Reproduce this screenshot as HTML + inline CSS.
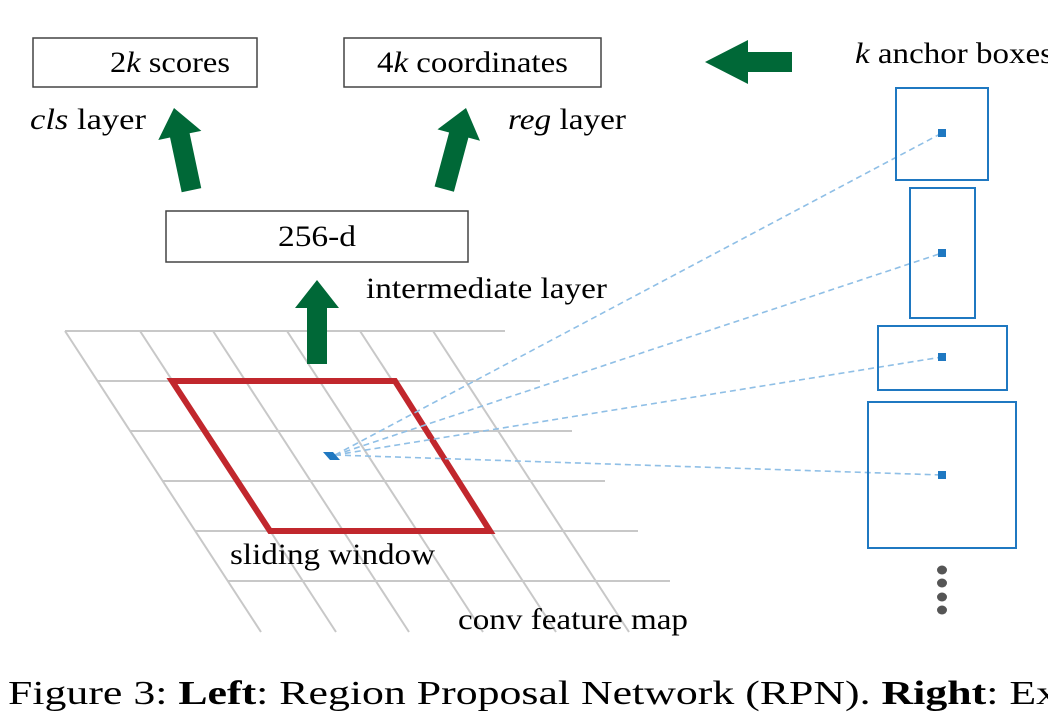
<!DOCTYPE html>
<html><head><meta charset="utf-8"><style>
html,body{margin:0;padding:0;background:#fff;}
svg{display:block}
text{font-family:"Liberation Serif",serif;fill:#000}
</style></head><body>
<svg width="1048" height="722" viewBox="0 0 1048 722" xmlns="http://www.w3.org/2000/svg">
<defs>
<path id="up" d="M0,0 L22,28 L10,28 L10,84 L-10,84 L-10,28 L-22,28 Z" fill="#006837"/>
</defs>
<g stroke="#c8c8c8" stroke-width="2">
<line x1="65" y1="331" x2="505" y2="331"/>
<line x1="98" y1="381" x2="540" y2="381"/>
<line x1="130" y1="431" x2="572" y2="431"/>
<line x1="163" y1="481" x2="605" y2="481"/>
<line x1="195" y1="531" x2="638" y2="531"/>
<line x1="228" y1="581" x2="670" y2="581"/>
<line x1="65" y1="331" x2="261" y2="632"/>
<line x1="140" y1="331" x2="336" y2="632"/>
<line x1="213" y1="331" x2="409" y2="632"/>
<line x1="287" y1="331" x2="483" y2="632"/>
<line x1="360" y1="331" x2="556" y2="632"/>
<line x1="433" y1="331" x2="629" y2="632"/>
</g>
<polygon points="172,381 395,381 490,531 270,531" fill="none" stroke="#c1272d" stroke-width="6"/>
<g stroke="#8fbfe6" stroke-width="1.6" stroke-dasharray="6,4" fill="none">
<line x1="335" y1="455" x2="942" y2="133"/>
<line x1="335" y1="455" x2="942" y2="253"/>
<line x1="335" y1="455" x2="942" y2="357"/>
<line x1="335" y1="455" x2="942" y2="475"/>
</g>
<polygon points="323,452 333,452 340,460 330,460" fill="#1f78c1"/>
<g stroke="#1f78c1" stroke-width="2" fill="none">
<rect x="896" y="88" width="92" height="92"/>
<rect x="910" y="188" width="65" height="130"/>
<rect x="878" y="326" width="129" height="64"/>
<rect x="868" y="402" width="148" height="146"/>
</g>
<g fill="#1f78c1">
<rect x="938" y="129" width="8" height="8"/>
<rect x="938" y="249" width="8" height="8"/>
<rect x="938" y="353" width="8" height="8"/>
<rect x="938" y="471" width="8" height="8"/>
</g>
<g fill="#555">
<ellipse cx="942" cy="570" rx="5" ry="4.5"/>
<ellipse cx="942" cy="583" rx="5" ry="4.5"/>
<ellipse cx="942" cy="597" rx="5" ry="4.5"/>
<ellipse cx="942" cy="610" rx="5" ry="4.5"/>
</g>
<g stroke="#444" stroke-width="1.5" fill="none">
<rect x="33" y="38" width="224" height="49"/>
<rect x="344" y="38" width="257" height="49"/>
<rect x="166" y="211" width="302" height="51"/>
</g>
<g font-size="30">
<text x="110" y="72" textLength="120" lengthAdjust="spacingAndGlyphs">2<tspan font-style="italic">k</tspan> scores</text>
<text x="377" y="72" textLength="191" lengthAdjust="spacingAndGlyphs">4<tspan font-style="italic">k</tspan> coordinates</text>
<text x="278" y="246" textLength="78" lengthAdjust="spacingAndGlyphs">256-d</text>
<text x="30" y="129" textLength="116" lengthAdjust="spacingAndGlyphs"><tspan font-style="italic">cls</tspan> layer</text>
<text x="508" y="129" textLength="118" lengthAdjust="spacingAndGlyphs"><tspan font-style="italic">reg</tspan> layer</text>
<text x="366" y="298" textLength="241" lengthAdjust="spacingAndGlyphs">intermediate layer</text>
<text x="230" y="564" textLength="205" lengthAdjust="spacingAndGlyphs">sliding window</text>
<text x="458" y="629" textLength="230" lengthAdjust="spacingAndGlyphs">conv feature map</text>
<text x="855" y="63" textLength="198" lengthAdjust="spacingAndGlyphs"><tspan font-style="italic">k</tspan> anchor boxes</text>
</g>
<use href="#up" transform="translate(317,280)"/>
<use href="#up" transform="translate(174,108) rotate(-12)"/>
<use href="#up" transform="translate(466,108) rotate(15)"/>
<path d="M705,62 L748,40 L748,52 L792,52 L792,72 L748,72 L748,84 Z" fill="#006837"/>
<text x="8" y="704" font-size="34" textLength="1050" lengthAdjust="spacingAndGlyphs">Figure 3: <tspan font-weight="bold">Left</tspan>: Region Proposal Network (RPN). <tspan font-weight="bold">Right</tspan>: Ex</text>
</svg>
</body></html>
